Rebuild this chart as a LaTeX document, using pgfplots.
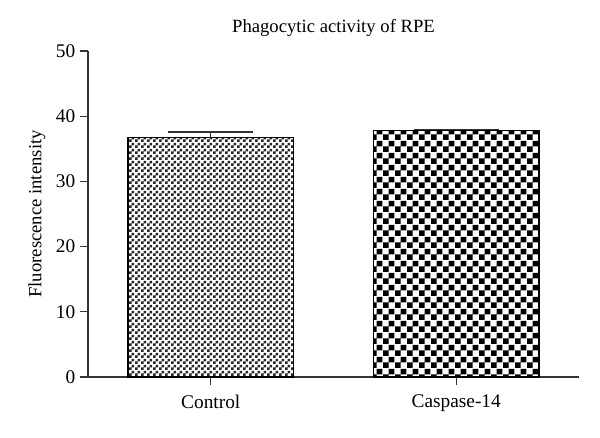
\documentclass[border=0pt]{standalone}
\usepackage{fontspec}
\setmainfont{Liberation Serif}
\usepackage{pgfplots}
\pgfplotsset{compat=1.18}
\usetikzlibrary{patterns}
\pgfdeclarepatternformonly{checkfine}{\pgfpointorigin}{\pgfpoint{4.2pt}{4.2pt}}{\pgfpoint{4.2pt}{4.2pt}}{%
  \pgfpathrectangle{\pgfpointorigin}{\pgfpoint{2.1pt}{2.1pt}}%
  \pgfpathrectangle{\pgfpoint{2.1pt}{2.1pt}}{\pgfpoint{2.1pt}{2.1pt}}%
  \pgfusepath{fill}}
\pgfdeclarepatternformonly{checkcoarse}{\pgfpointorigin}{\pgfpoint{8.7pt}{8.7pt}}{\pgfpoint{8.7pt}{8.7pt}}{%
  \pgfpathrectangle{\pgfpointorigin}{\pgfpoint{4.35pt}{4.35pt}}%
  \pgfpathrectangle{\pgfpoint{4.35pt}{4.35pt}}{\pgfpoint{4.35pt}{4.35pt}}%
  \pgfusepath{fill}}
\begin{document}
\begin{tikzpicture}
\useasboundingbox (0,0) rectangle (450pt,328.5pt);
\begin{axis}[
  at={(66pt,45.75pt)}, anchor=south west,
  scale only axis, width=368.25pt, height=244.5pt,
  xmin=-0.5, xmax=1.5, ymin=0, ymax=50,
  axis x line*=bottom, axis y line*=left,
  axis line style={line width=1pt, draw=black!80},
  xtick={0,1}, xticklabels={Control,Caspase-14},
  ytick={0,10,20,30,40,50},
  tick style={line width=1pt, black!80},
  tick align=outside, major tick length=6pt,
  /pgf/number format/assume math mode=true,
  tick label style={font=\fontsize{14.5}{16}\selectfont},
  xticklabel style={yshift=-4pt},
  ylabel={Fluorescence intensity},
  ylabel style={font=\fontsize{14}{16}\selectfont, yshift=1pt},
  title={Phagocytic activity of RPE},
  title style={font=\fontsize{14}{16}\selectfont, yshift=1pt},
  ybar, bar width=0.673, bar shift=0pt,
  clip=false,
]
\addplot[draw=black, line width=1pt, pattern=checkfine, pattern color=black!85,
  error bars/.cd, y dir=plus, y explicit,
  error bar style={line width=1pt, black!80},
  error mark options={rotate=90, mark size=32pt, line width=1pt, black!80}]
  coordinates {(0,36.7) +- (0,0.9)};
\addplot[draw=black, line width=1pt, pattern=checkcoarse, pattern color=black,
  error bars/.cd, y dir=plus, y explicit,
  error bar style={line width=1pt, black!80},
  error mark options={rotate=90, mark size=32pt, line width=1pt, black!80}]
  coordinates {(1,37.8) +- (0,0.15)};
\end{axis}
\end{tikzpicture}
\end{document}
